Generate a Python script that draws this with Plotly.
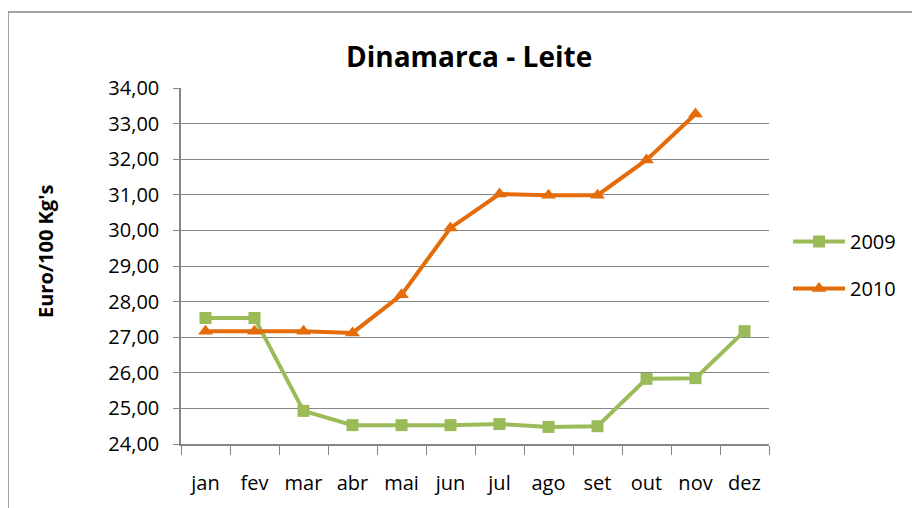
import plotly.graph_objects as go

months = ["jan", "fev", "mar", "abr", "mai", "jun", "jul", "ago", "set", "out", "nov", "dez"]
v2009 = [27.54, 27.54, 24.93, 24.53, 24.53, 24.53, 24.56, 24.48, 24.50, 25.83, 25.85, 27.17]
v2010 = [27.17, 27.17, 27.17, 27.12, 28.19, 30.07, 31.02, 30.99, 30.99, 31.98, 33.27, None]
ytickvals = [24, 25, 26, 27, 28, 29, 30, 31, 32, 33, 34]
yticktext = [f"{v:.2f}".replace(".", ",") for v in ytickvals]

FONT = "Open Sans, Arial, sans-serif"

# plot area in figure pixels (page has an 8px body offset)
L, T, W, H = 173, 80, 588, 356

fig = go.Figure()
fig.add_trace(go.Scatter(x=months, y=v2009, name="2009", mode="lines+markers", legendgroup="a",
                         line=dict(color="#9BBB59", width=4),
                         marker=dict(symbol="square", size=12, color="#9BBB59")))
fig.add_trace(go.Scatter(x=months, y=v2010, name="2010", mode="lines+markers", legendgroup="b",
                         line=dict(color="#E46C0A", width=4),
                         marker=dict(symbol="triangle-up", size=13, color="#E46C0A")))

fig.update_layout(
    width=920, height=508,
    margin=dict(l=L, r=920 - L - W, t=T, b=508 - T - H),
    paper_bgcolor="white", plot_bgcolor="white",
    font=dict(family=FONT, size=20, color="black"),
    title=dict(text="<b>Dinamarca - Leite</b>", x=0.49, xref="paper", xanchor="center",
               y=1 - 49 / 508, yref="container", yanchor="middle",
               font=dict(family=FONT, size=28)),
    legend=dict(x=(780 - L) / W, y=(T + H - 214) / H, xanchor="left", yanchor="top",
                font=dict(size=20), itemwidth=52, tracegroupgap=18, traceorder="grouped",
                bgcolor="rgba(0,0,0,0)"),
    showlegend=True,
)

fig.update_xaxes(type="category", categoryorder="array", categoryarray=months,
                 showgrid=False, showline=True, linecolor="#868686", linewidth=1.5,
                 ticks="outside", tickson="boundaries", ticklen=9, tickcolor="#868686",
                 ticklabelstandoff=20, range=[-0.5, 11.5], zeroline=False)
fig.update_yaxes(range=[24, 34], tickvals=ytickvals, ticktext=yticktext,
                 showgrid=True, gridcolor="#868686", gridwidth=1.3,
                 showline=True, linecolor="#868686", linewidth=1.5,
                 ticks="outside", ticklen=6, tickcolor="#868686", zeroline=False,
                 ticklabelstandoff=10)

fig.add_annotation(text="<b>Euro/100 Kg's</b>", textangle=-90, showarrow=False,
                   xref="paper", yref="paper", x=(37 - L) / W, y=(T + H - 244) / H,
                   xanchor="center", yanchor="middle", font=dict(family=FONT, size=20))

# outer chart frame (cropped at right/bottom)
fx = (0 - L) / W
fy = (T + H - 4) / H
fig.add_shape(type="line", xref="paper", yref="paper",
              x0=fx, x1=fx, y0=(T + H - 520) / H, y1=fy,
              line=dict(color="#868686", width=1.5))
fig.add_shape(type="line", xref="paper", yref="paper",
              x0=fx, x1=(930 - L) / W, y0=fy, y1=fy,
              line=dict(color="#868686", width=1.5))

fig.write_html("out.html")
